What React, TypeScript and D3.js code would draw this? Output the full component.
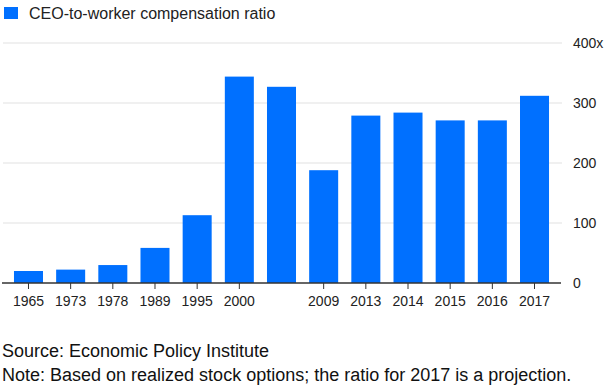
import React, { useEffect, useRef } from 'react';
import * as d3 from 'd3';

// data
const years = ['1965', '1973', '1978', '1989', '1995', '2000', '2007', '2009', '2013', '2014', '2015', '2016', '2017'];
const ratios = [20.0, 22.3, 29.9, 58.5, 113, 344, 327, 188, 279, 284, 271, 271, 312];
// 2007 bar carries no label in the original
const hiddenLabels = ['2007'];
const yTicks = [0, 100, 200, 300, 400];

const seriesName = 'CEO-to-worker compensation ratio';
const sourceText = 'Source: Economic Policy Institute';
const noteText = 'Note: Based on realized stock options; the ratio for 2017 is a projection.';

const BLUE = '#0070ff';

const App: React.FC = () => {
  const svgRef = useRef<SVGSVGElement>(null);

  useEffect(() => {
    if (!svgRef.current) return;
    const svg = d3.select(svgRef.current);
    svg.selectAll('*').remove();

    const width = 614;
    const height = 392;
    const font = '"Liberation Sans", Arial, Helvetica, sans-serif';

    svg.attr('width', width).attr('height', height);

    const x = d3
      .scaleBand<string>()
      .domain(years)
      .range([7.4, 555.6])
      .paddingInner(0.312)
      .paddingOuter(0.156);

    const y = d3.scaleLinear().domain([0, 400]).range([283, 43]);

    // legend
    svg.append('rect').attr('x', 4).attr('y', 7).attr('width', 14).attr('height', 12).attr('fill', BLUE);
    svg
      .append('text')
      .attr('x', 29)
      .attr('y', 18.5)
      .style('font-family', font)
      .style('font-size', '16px')
      .style('fill', '#222')
      .text(seriesName);

    // gridlines
    svg
      .append('g')
      .selectAll('line')
      .data(yTicks.filter((t) => t > 0))
      .enter()
      .append('line')
      .attr('x1', 3)
      .attr('x2', 562)
      .attr('y1', (d) => y(d))
      .attr('y2', (d) => y(d))
      .style('stroke', '#ebebeb')
      .style('stroke-width', '1.5px');

    // right axis labels
    svg
      .append('g')
      .selectAll('text')
      .data(yTicks)
      .enter()
      .append('text')
      .attr('x', 573)
      .attr('y', (d) => y(d))
      .attr('dy', '0.36em')
      .style('font-family', font)
      .style('font-size', '14px')
      .style('fill', '#222')
      .text((d) => (d === 400 ? '400x' : String(d)));

    // bars
    svg
      .append('g')
      .selectAll('rect')
      .data(ratios)
      .enter()
      .append('rect')
      .attr('x', (_d, i) => x(years[i]) ?? 0)
      .attr('width', x.bandwidth())
      .attr('y', (d) => y(d))
      .attr('height', (d) => y(0) - y(d))
      .style('fill', BLUE);

    // baseline
    svg
      .append('line')
      .attr('x1', 2)
      .attr('x2', 561)
      .attr('y1', y(0))
      .attr('y2', y(0))
      .style('stroke', '#333')
      .style('stroke-width', '1.5px');

    // x ticks + labels
    const shown = years.filter((yr) => !hiddenLabels.includes(yr));
    const xAxis = svg.append('g');
    xAxis
      .selectAll('line')
      .data(shown)
      .enter()
      .append('line')
      .attr('x1', (d) => (x(d) ?? 0) + x.bandwidth() / 2)
      .attr('x2', (d) => (x(d) ?? 0) + x.bandwidth() / 2)
      .attr('y1', y(0))
      .attr('y2', y(0) + 6)
      .style('stroke', '#333')
      .style('stroke-width', '1px');
    xAxis
      .selectAll('text')
      .data(shown)
      .enter()
      .append('text')
      .attr('x', (d) => (x(d) ?? 0) + x.bandwidth() / 2)
      .attr('y', 306)
      .attr('text-anchor', 'middle')
      .style('font-family', font)
      .style('font-size', '14px')
      .style('fill', '#222')
      .text((d) => d);

    // footer
    svg
      .append('text')
      .attr('x', 2)
      .attr('y', 357)
      .style('font-family', font)
      .style('font-size', '18px')
      .style('fill', '#111')
      .text(sourceText);
    svg
      .append('text')
      .attr('x', 2)
      .attr('y', 381)
      .style('font-family', font)
      .style('font-size', '18px')
      .style('fill', '#111')
      .text(noteText);
  }, []);

  return <svg ref={svgRef} style={{ position: 'absolute', left: 0, top: 0 }}></svg>;
};

export default App;
